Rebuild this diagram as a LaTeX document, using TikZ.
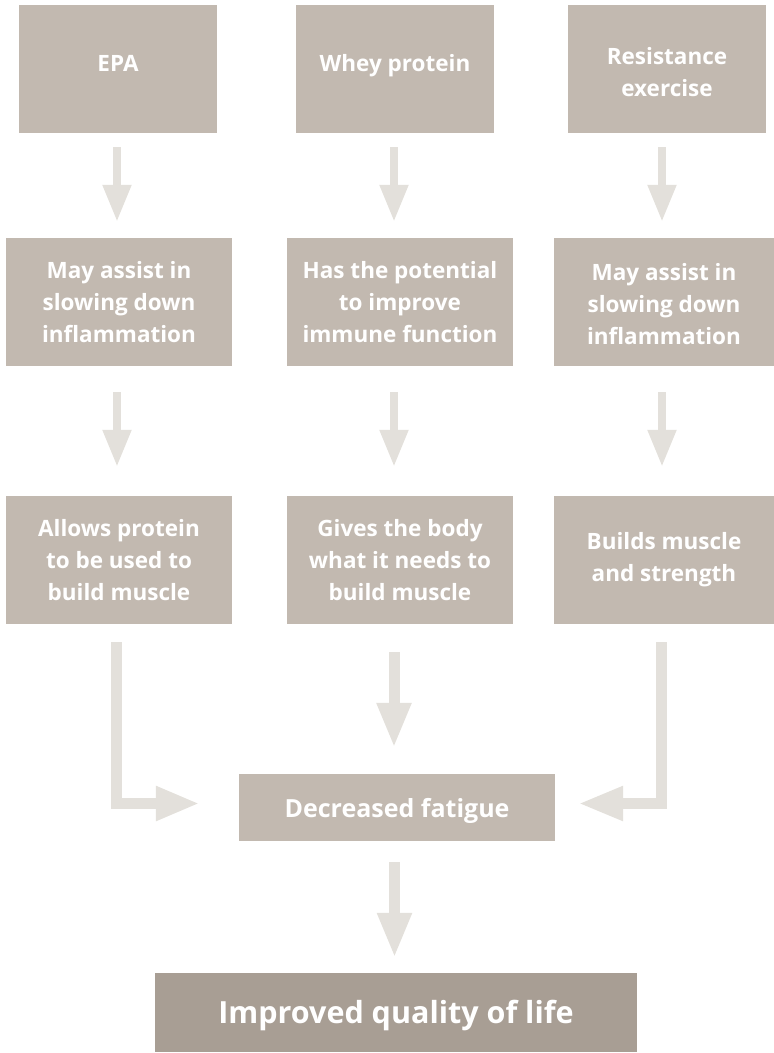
\documentclass[tikz,border=0pt]{standalone}
\usepackage{fontspec}
\setmainfont{Open Sans}
\usetikzlibrary{arrows.meta}
\definecolor{boxc}{HTML}{C2B9B0}
\definecolor{endc}{HTML}{A89E94}
\definecolor{arrc}{HTML}{E3E0DB}
\begin{document}
\begin{tikzpicture}[x=1pt,y=-1pt,
  box/.style={fill=boxc, text=white, font=\bfseries\fontsize{22.5}{32}\selectfont, align=center, inner sep=0pt},
  smallarr/.style={draw=arrc, line width=8pt, -{Triangle[width=27pt,length=37pt]}, arrc},
  bigarr/.style={draw=arrc, line width=11pt, -{Triangle[width=32pt,length=45pt]}, arrc}]
\useasboundingbox (0,0) rectangle (774,1053);
% row 1
\node[box, minimum width=198pt, minimum height=128pt, text depth=12pt] (a1) at (118,69) {EPA};
\node[box, minimum width=198pt, minimum height=128pt, text depth=12pt] (a2) at (395,69) {Whey protein};
\node[box, minimum width=198pt, minimum height=128pt] (a3) at (667,69) {\rule{0pt}{23pt}Resistance\\exercise};
% row 2
\node[box, minimum width=226pt, minimum height=128pt] (b1) at (119,302) {May assist in\\slowing down\\inflammation};
\node[box, minimum width=226pt, minimum height=128pt] (b2) at (400,302) {Has the potential\\to improve\\immune function};
\node[box, minimum width=220pt, minimum height=128pt] (b3) at (664,302) {\rule{0pt}{22pt}May assist in\\slowing down\\inflammation};
% row 3
\node[box, minimum width=226pt, minimum height=128pt] (c1) at (119,560) {Allows protein\\to be used to\\build muscle};
\node[box, minimum width=226pt, minimum height=128pt] (c2) at (400,560) {Gives the body\\what it needs to\\build muscle};
\node[box, minimum width=220pt, minimum height=128pt] (c3) at (664,560) {Builds muscle\\and strength};
% fatigue and final
\node[box, font=\bfseries\fontsize{25}{32}\selectfont, minimum width=316pt, minimum height=67pt] (f) at (397,807.5) {\rule{0pt}{25pt}Decreased fatigue};
\node[box, fill=endc, font=\bfseries\fontsize{30.5}{36}\selectfont, minimum width=482pt, minimum height=79pt] (q) at (396,1012.5) {\rule{0pt}{29pt}Improved quality of life};
% arrows row1 -> row2
\draw[smallarr, shorten <=14pt, shorten >=16pt] ([xshift=-1pt]a1.south) -- ([xshift=-1pt]a1.south |- b1.north);
\draw[smallarr, shorten <=14pt, shorten >=16pt] ([xshift=-1pt]a2.south) -- ([xshift=-1pt]a2.south |- b2.north);
\draw[smallarr, shorten <=14pt, shorten >=16pt] ([xshift=-5pt]a3.south) -- ([xshift=-5pt]a3.south |- b3.north);
% arrows row2 -> row3
\draw[smallarr, shorten <=26pt, shorten >=29pt] ([xshift=-2pt]b1.south) -- ([xshift=-2pt]b1.south |- c1.north);
\draw[smallarr, shorten <=26pt, shorten >=29pt] ([xshift=-6pt]b2.south) -- ([xshift=-6pt]b2.south |- c2.north);
\draw[smallarr, shorten <=26pt, shorten >=29pt] ([xshift=-2pt]b3.south) -- ([xshift=-2pt]b3.south |- c3.north);
% arrows row3 -> fatigue
\draw[bigarr, shorten <=28pt, shorten >=26pt] ([xshift=-6pt]c2.south) -- ([xshift=-6pt]c2.south |- f.north);
\draw[bigarr, shorten <=18pt, shorten >=39pt, -{Triangle[width=32pt,length=44pt]}] ([xshift=-2.5pt]c1.south) |- ([yshift=4pt]f.west);
\draw[bigarr, shorten <=18pt, shorten >=23pt, -{Triangle[width=32pt,length=45pt]}] ([xshift=-2.5pt]c3.south) |- ([yshift=4pt]f.east);
% fatigue -> final
\draw[bigarr, shorten <=21pt, shorten >=15pt] ([xshift=-2.5pt]f.south) -- ([xshift=-2.5pt]f.south |- q.north);
\end{tikzpicture}
\end{document}
